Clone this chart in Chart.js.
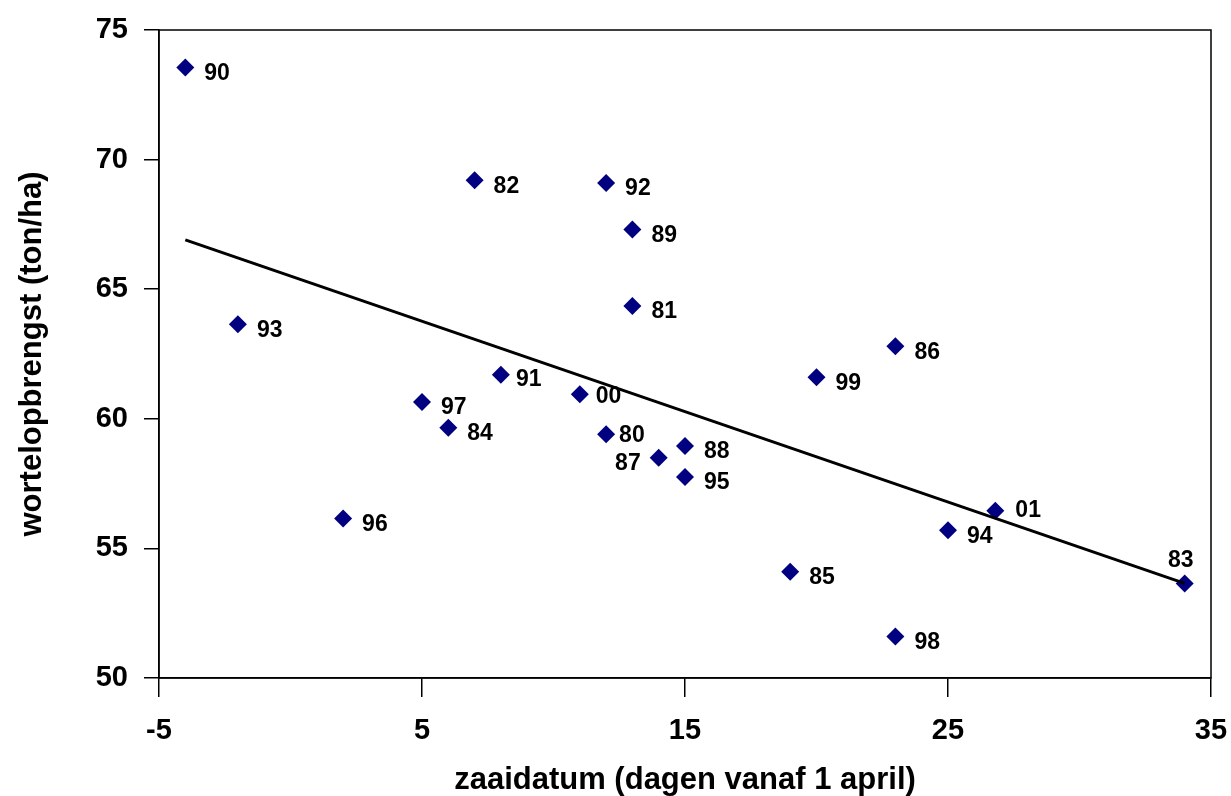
<!DOCTYPE html>
<html>
<head>
<meta charset="utf-8">
<script src="https://cdn.jsdelivr.net/npm/chart.js@4"></script>
<style>
  html, body { margin: 0; padding: 0; background: #ffffff; }
  #wrap { width: 1231px; height: 796px; }
</style>
</head>
<body>
<div id="wrap"><canvas id="sowChart" width="1231" height="796"></canvas></div>
<script>
/* DATA */
const years   = ['90', '82', '92', '89', '81', '93', '86', '91', '99', '00', '97',
                 '84', '80', '88', '87', '95', '96', '01', '94', '85', '98', '83'];
const sowDay  = [-4, 7, 12, 13, 13, -2, 23, 8, 20, 11, 5,
                 6, 12, 15, 14, 15, 2, 26.8, 25, 19, 23, 34];
const yieldT  = [73.55, 69.2, 69.1, 67.3, 64.35, 63.65, 62.8, 61.7, 61.6, 60.95, 60.65,
                 59.65, 59.4, 58.95, 58.5, 57.75, 56.15, 56.45, 55.7, 54.1, 51.6, 53.65];
const trendX  = [-4, 34];
const trendY  = [66.9, 53.65];
const xTicks  = [-5, 5, 15, 25, 35];
const yTicks  = [50, 55, 60, 65, 70, 75];

const markerColor = '#000080';
const fontFamily = "'Liberation Sans', Arial, sans-serif";

/* label nudges (pixels from marker centre) */
const labelNudge = { dx: 19, dy: 6 };
const labelOverrides = {
    '87': { dx: -18, dy: 6, align: 'right' },
    '83': { dx: -4, dy: -23, align: 'center' },
    '00': { dx: 16, dy: 2 },
    '80': { dx: 13, dy: 1 },
    '01': { dx: 20, dy: 0 },
    '91': { dx: 15, dy: 5 }
};

const canvas = document.getElementById('sowChart');
const ctx = canvas.getContext('2d');

const pointLabels = {
    id: 'pointLabels',
    afterDatasetsDraw(chart) {
        const meta = chart.getDatasetMeta(1);
        const c = chart.ctx;
        c.save();
        c.font = 'bold 23px ' + fontFamily;
        c.fillStyle = '#000000';
        c.textBaseline = 'middle';
        meta.data.forEach((pt, i) => {
            const o = labelOverrides[years[i]] || labelNudge;
            c.textAlign = o.align || 'left';
            c.fillText(years[i], pt.x + o.dx, pt.y + o.dy);
        });
        c.restore();
    }
};

const plotFrame = {
    id: 'plotFrame',
    afterDraw(chart) {
        const a = chart.chartArea;
        const c = chart.ctx;
        c.save();
        c.strokeStyle = '#000000';
        c.lineWidth = 1.5;
        c.strokeRect(a.left, a.top, a.right - a.left, a.bottom - a.top);
        c.restore();
    }
};

new Chart(ctx, {
    type: 'scatter',
    data: {
        datasets: [{
            type: 'line',
            data: trendX.map((x, i) => ({ x: x, y: trendY[i] })),
            borderColor: '#000000',
            borderWidth: 3,
            pointRadius: 0,
            fill: false,
            order: 0
        }, {
            data: sowDay.map((x, i) => ({ x: x, y: yieldT[i] })),
            pointStyle: 'rectRot',
            pointRadius: 9,
            pointBorderWidth: 0,
            backgroundColor: markerColor,
            borderColor: markerColor,
            order: 1
        }]
    },
    options: {
        responsive: false,
        animation: false,
        layout: { padding: { top: 30, right: 20, bottom: 0, left: 0 } },
        plugins: {
            legend: { display: false },
            tooltip: { enabled: false }
        },
        scales: {
            x: {
                type: 'linear',
                min: -5,
                max: 35,
                afterBuildTicks: s => { s.ticks = xTicks.map(v => ({ value: v })); },
                afterFit: s => { s.height = 118; s.paddingLeft = 0; s.paddingRight = 0; },
                border: { display: true, color: '#000000', width: 1.5 },
                grid: { drawOnChartArea: false, drawTicks: true, tickLength: 19, color: '#000000', lineWidth: 1.5 },
                ticks: {
                    color: '#000000',
                    padding: 17,
                    maxRotation: 0,
                    font: { family: fontFamily, size: 29, weight: 'bold' }
                },
                title: {
                    display: true,
                    text: 'zaaidatum (dagen vanaf 1 april)',
                    color: '#000000',
                    padding: { top: 0, bottom: 0 },
                    font: { family: fontFamily, size: 31, weight: 'bold', lineHeight: 1 }
                }
            },
            y: {
                type: 'linear',
                min: 50,
                max: 75,
                afterBuildTicks: s => { s.ticks = yTicks.map(v => ({ value: v })); },
                afterFit: s => { s.width = 159; s.paddingTop = 0; s.paddingBottom = 0; },
                border: { display: true, color: '#000000', width: 1.5 },
                grid: { drawOnChartArea: false, drawTicks: true, tickLength: 15, color: '#000000', lineWidth: 1.5 },
                ticks: {
                    color: '#000000',
                    padding: 16,
                    font: { family: fontFamily, size: 29, weight: 'bold' }
                },
                title: {
                    display: true,
                    text: 'wortelopbrengst (ton/ha)',
                    color: '#000000',
                    padding: { top: 17, bottom: 0 },
                    font: { family: fontFamily, size: 31, weight: 'bold', lineHeight: 1 }
                }
            }
        }
    },
    plugins: [pointLabels, plotFrame]
});
</script>
</body>
</html>
